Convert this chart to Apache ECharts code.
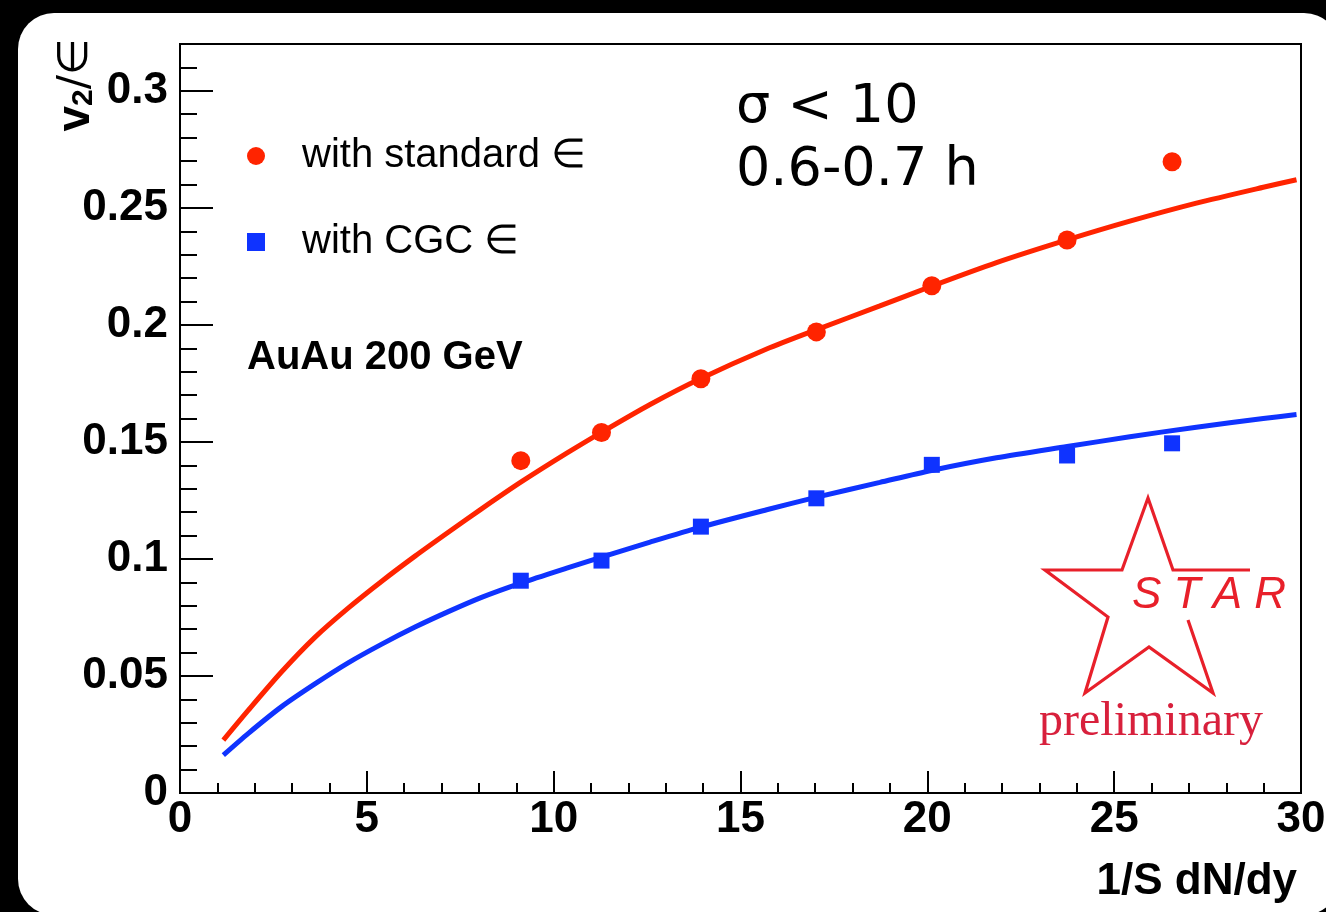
<!DOCTYPE html>
<html>
<head>
<meta charset="utf-8">
<title>v2/ε vs 1/S dN/dy</title>
<script src="https://cdn.jsdelivr.net/npm/echarts@6/dist/echarts.min.js"></script>
<style>
  html, body { margin: 0; padding: 0; background: #000; }
  #chart { width: 1326px; height: 912px; }
</style>
</head>
<body>
<div id="chart"></div>
<script>
// Measured points: v2 divided by eccentricity vs transverse multiplicity density
const multiplicity = [9.12, 11.28, 13.94, 17.03, 20.12, 23.74, 26.55];
const v2StandardEcc = [0.142, 0.154, 0.177, 0.197, 0.2167, 0.2363, 0.2697];
const v2CgcEcc = [0.0907, 0.0993, 0.1138, 0.1259, 0.1402, 0.1442, 0.1494];

// Fit curves sampled along the x range
const fitX = [1.16, 1.83, 2.72, 3.61, 4.50, 5.40, 6.29, 7.18, 8.07, 9.14, 10.35, 11.28,
  12.58, 13.91, 15.70, 17.04, 18.73, 20.11, 21.85, 23.74, 25.42, 27.20, 28.99, 29.88];
const fitStandard = [0.0226, 0.0354, 0.0518, 0.0665, 0.0790, 0.0905, 0.1012, 0.1114, 0.1214,
  0.1330, 0.1452, 0.1541, 0.1660, 0.1769, 0.1897, 0.1980, 0.2081, 0.2165, 0.2266, 0.2363,
  0.2443, 0.2520, 0.2588, 0.2620];
const fitCgc = [0.0162, 0.0255, 0.0369, 0.0466, 0.0556, 0.0636, 0.0709, 0.0775, 0.0836,
  0.0898, 0.0961, 0.1008, 0.1072, 0.1135, 0.1210, 0.1264, 0.1327, 0.1378, 0.1432, 0.1480,
  0.1522, 0.1563, 0.1600, 0.1617];

const seriesNames = ['with standard \u2208', 'with CGC \u2208'];
const yMajorStep = 0.05;

const RED = '#ff2400';
const BLUE = '#0f33ff';
const STAR_RED = '#e8202a';

const zip = (xs, ys) => xs.map((x, i) => [x, ys[i]]);

const chart = echarts.init(document.getElementById('chart'), null, { renderer: 'canvas' });

const labelFont = {
  fontFamily: '"Liberation Sans", Arial, Helvetica, sans-serif',
  fontWeight: 'bold',
  fontSize: 44,
  color: '#000'
};

chart.setOption({
  backgroundColor: '#000',
  animation: false,
  grid: {
    left: 180, right: 25, top: 44, bottom: 119,
    show: true, borderColor: '#000', borderWidth: 2,
    containLabel: false, outerBoundsMode: 'none'
  },
  legend: {
    data: [
      { name: seriesNames[0], icon: 'circle' },
      { name: seriesNames[1], icon: 'rect' }
    ],
    orient: 'vertical',
    left: 247,
    top: 136,
    padding: 0,
    itemWidth: 18,
    itemHeight: 18,
    itemGap: 46,
    selectedMode: false,
    textStyle: {
      fontFamily: '"Liberation Sans", Arial, Helvetica, sans-serif',
      fontSize: 40,
      color: '#000',
      padding: [0, 0, 0, 32]
    }
  },
  xAxis: {
    type: 'value',
    min: 0, max: 30, interval: 5,
    axisLine: { onZero: false, lineStyle: { color: '#000', width: 2 } },
    axisTick: { inside: true, length: 22, lineStyle: { color: '#000', width: 2 } },
    minorTick: { show: true, splitNumber: 5, length: 10, lineStyle: { color: '#000', width: 2 } },
    splitLine: { show: false },
    minorSplitLine: { show: false },
    axisLabel: Object.assign({ margin: 5 }, labelFont)
  },
  yAxis: [
    {
      type: 'value',
      min: 0, max: 0.32, interval: 0.01,
      axisLine: { onZero: false, lineStyle: { color: '#000', width: 2 } },
      axisTick: { inside: true, length: 17, lineStyle: { color: '#000', width: 2 } },
      splitLine: { show: false },
      axisLabel: Object.assign({
        margin: 12,
        formatter: function (v) {
          const hundredths = Math.round(v * 100);
          if (hundredths % Math.round(yMajorStep * 100) !== 0) return '';
          return String(hundredths / 100);
        }
      }, labelFont)
    },
    {
      type: 'value',
      min: 0, max: 0.32, interval: yMajorStep,
      position: 'left',
      axisLine: { show: false },
      axisTick: { inside: true, length: 33, lineStyle: { color: '#000', width: 2 } },
      axisLabel: { show: false },
      splitLine: { show: false }
    }
  ],
  series: [
    {
      name: 'fit standard',
      type: 'line',
      data: zip(fitX, fitStandard),
      smooth: 0.25,
      showSymbol: false,
      lineStyle: { color: RED, width: 5 },
      itemStyle: { color: RED },
      z: 2
    },
    {
      name: 'fit CGC',
      type: 'line',
      data: zip(fitX, fitCgc),
      smooth: 0.25,
      showSymbol: false,
      lineStyle: { color: BLUE, width: 5 },
      itemStyle: { color: BLUE },
      z: 2
    },
    {
      name: seriesNames[0],
      type: 'scatter',
      data: zip(multiplicity, v2StandardEcc),
      symbol: 'circle',
      symbolSize: 19,
      itemStyle: { color: RED, opacity: 1 },
      z: 3
    },
    {
      name: seriesNames[1],
      type: 'scatter',
      data: zip(multiplicity, v2CgcEcc),
      symbol: 'rect',
      symbolSize: 16,
      itemStyle: { color: BLUE, opacity: 1 },
      z: 3
    }
  ],
  graphic: [
    {
      type: 'rect',
      z: -100,
      silent: true,
      shape: { x: 18, y: 13, width: 1322, height: 902, r: 36 },
      style: { fill: '#fff' }
    },
    {
      // y-axis title, rotated to read bottom-up
      type: 'text',
      x: 76, y: 85,
      rotation: Math.PI / 2,
      style: {
        text: '{v|v}{s|2}{e|/\u2208}',
        align: 'center',
        verticalAlign: 'middle',
        rich: {
          v: { fontFamily: '"Liberation Sans", Arial, sans-serif', fontWeight: 'bold', fontSize: 46, fill: '#000', lineHeight: 46 },
          s: { fontFamily: '"Liberation Sans", Arial, sans-serif', fontWeight: 'bold', fontSize: 30, fill: '#000', lineHeight: 20, verticalAlign: 'bottom' },
          e: { fontFamily: '"DejaVu Sans", sans-serif', fontSize: 42, fill: '#000', lineHeight: 46 }
        }
      }
    },
    {
      type: 'text',
      x: 1297, y: 882,
      style: {
        text: '1/S dN/dy',
        align: 'right', verticalAlign: 'middle',
        font: 'bold 44px "Liberation Sans", Arial, sans-serif',
        fill: '#000'
      }
    },
    {
      type: 'text',
      x: 247, y: 358,
      style: {
        text: 'AuAu 200 GeV',
        align: 'left', verticalAlign: 'middle',
        font: 'bold 40px "Liberation Sans", Arial, sans-serif',
        fill: '#000'
      }
    },
    {
      type: 'text',
      x: 736, y: 108,
      style: {
        text: '\u03c3 < 10',
        align: 'left', verticalAlign: 'middle',
        font: '54px "DejaVu Sans", Verdana, sans-serif',
        fill: '#000'
      }
    },
    {
      type: 'text',
      x: 736, y: 171,
      style: {
        text: '0.6-0.7 h',
        align: 'left', verticalAlign: 'middle',
        font: '54px "DejaVu Sans", Verdana, sans-serif',
        fill: '#000'
      }
    },
    {
      // STAR logo outline
      type: 'polyline',
      silent: true,
      shape: {
        points: [
          [1188, 620], [1213, 693], [1149, 647], [1085, 693], [1108, 617],
          [1045, 570], [1122, 570], [1148, 498], [1173, 570], [1250, 570]
        ]
      },
      style: { stroke: STAR_RED, lineWidth: 3.2, fill: null, lineJoin: 'miter' }
    },
    {
      type: 'text',
      x: 1132, y: 596,
      style: {
        text: 'S T A R',
        align: 'left', verticalAlign: 'middle',
        font: 'italic 44px "Liberation Sans", Arial, sans-serif',
        fill: STAR_RED
      }
    },
    {
      type: 'text',
      x: 1039, y: 722,
      style: {
        text: 'preliminary',
        align: 'left', verticalAlign: 'middle',
        font: '48px "Liberation Serif", "Times New Roman", serif',
        fill: '#d8203c'
      }
    }
  ]
});
</script>
</body>
</html>
